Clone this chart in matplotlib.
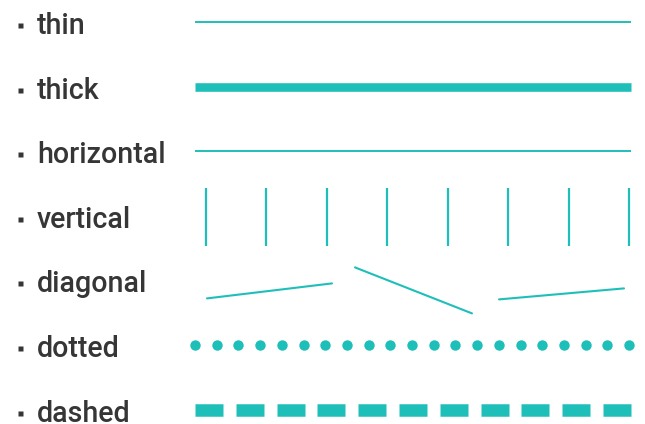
import numpy as np
import matplotlib
matplotlib.use("Agg")
import matplotlib.pyplot as plt

# ---- data ----
labels = ["thin", "thick", "horizontal", "vertical", "diagonal", "dotted", "dashed"]
vertical_count = 8
dotted_count = 21
dashed_count = 11
# diagonal segments: (x0, dy0, x1, dy1) relative to row centre (pixels)
diag_x0 = [207, 355, 499]
diag_x1 = [332, 472, 624]
diag_dy0 = [18, -13, 19]
diag_dy1 = [3, 33, 8]

TEAL = "#1fbfb9"
TXT = "#363636"

fig = plt.figure(figsize=(6.45, 4.24), dpi=100)
ax = fig.add_axes([0, 0, 1, 1])
ax.set_xlim(0, 645)
ax.set_ylim(424, 0)
ax.axis("off")

row_y = [22 + 64.6 * i for i in range(len(labels))]
x0, x1 = 195, 631

for lab, y in zip(labels, row_y):
    ax.text(37, y + 12, lab, fontsize=20.6, family="Roboto", fontweight="medium",
            color=TXT, va="baseline", ha="left")
    ax.plot([19.5], [y + 3], marker="s", ms=3.6, color=TXT, mec="none")

# thin
y = row_y[0]
ax.plot([x0, x1], [y, y], color=TEAL, lw=1.4, solid_capstyle="butt")
# thick
y = row_y[1]
ax.plot([x0, x1], [y, y], color=TEAL, lw=6.2, solid_capstyle="butt")
# horizontal
y = row_y[2]
ax.plot([x0, x1], [y, y], color=TEAL, lw=1.4, solid_capstyle="butt")
# vertical
y = row_y[3]
for xv in np.linspace(206, 629, vertical_count):
    ax.plot([xv, xv], [y - 28, y + 30], color=TEAL, lw=1.6, solid_capstyle="butt")
# diagonal
y = row_y[4]
for a, b, da, db in zip(diag_x0, diag_x1, diag_dy0, diag_dy1):
    ax.plot([a, b], [y + da, y + db], color=TEAL, lw=1.5, solid_capstyle="round")
# dotted
y = row_y[5]
xs = np.linspace(195, 629, dotted_count)
ax.plot(xs, [y] * len(xs), ls="none", marker="o", ms=7.5, color=TEAL, mec="none")
# dashed
y = row_y[6]
starts = np.linspace(195, 603, dashed_count)
for s in starts:
    ax.plot([s, s + 28], [y, y], color=TEAL, lw=9, solid_capstyle="butt")

fig.savefig("out.png", dpi=100)
